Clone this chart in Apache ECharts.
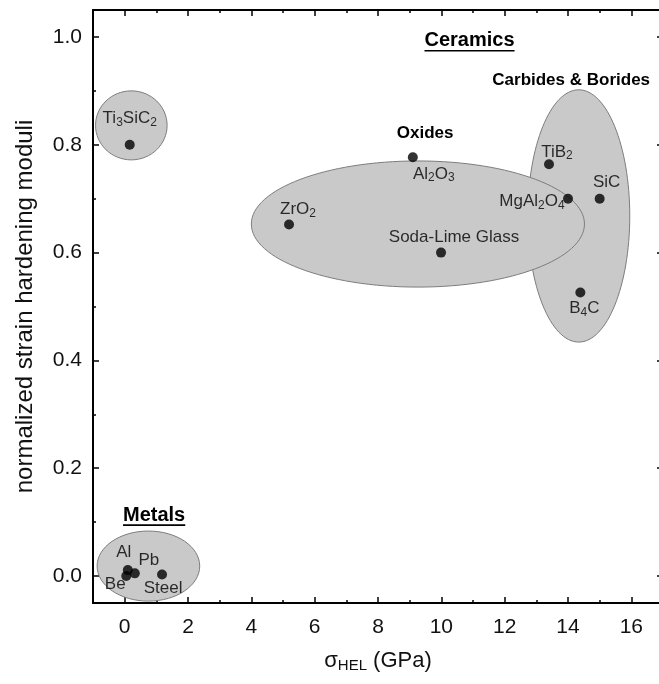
<!DOCTYPE html>
<html>
<head>
<meta charset="utf-8">
<script src="https://cdn.jsdelivr.net/npm/echarts@6/dist/echarts.min.js"></script>
<style>
  html, body { margin: 0; padding: 0; background: #fff; }
  #chart { width: 659px; height: 684px; }
</style>
</head>
<body>
<div id="chart"></div>
<script>
// data
const materials = ['Ti3SiC2', 'Al', 'Be', 'Pb', 'Steel', 'ZrO2', 'Al2O3', 'Soda-Lime Glass', 'TiB2', 'MgAl2O4', 'SiC', 'B4C'];
const sigmaHEL = [0.16, 0.10, 0.05, 0.32, 1.18, 5.19, 9.10, 9.99, 13.40, 14.00, 15.00, 14.39];
const hardening = [0.800, 0.011, 0.000, 0.005, 0.003, 0.652, 0.777, 0.600, 0.764, 0.700, 0.700, 0.526];

// material groups (ellipses), in data units
const groupNames = ['Carbides & Borides', 'Oxides', 'Ti3SiC2', 'Metals'];
const groupCx = [14.34, 9.26, 0.21, 0.75];
const groupCy = [0.668, 0.653, 0.836, 0.0185];
const groupRx = [1.61, 5.26, 1.13, 1.62];
const groupRy = [0.234, 0.117, 0.064, 0.065];

// group titles
const titleText = ['Ceramics', 'Carbides & Borides', 'Oxides', 'Metals'];
const titleX = [10.89, 14.10, 9.49, 0.93];
const titleY = [0.993, 0.920, 0.821, 0.113];

// ticks
const xMajorTicks = [0, 2, 4, 6, 8, 10, 12, 14, 16];
const xMinorTicks = [1, 3, 5, 7, 9, 11, 13, 15];
const yMajorTicks = [0, 0.2, 0.4, 0.6, 0.8, 1.0];
const yMinorTicks = [0.1, 0.3, 0.5, 0.7, 0.9];

const FONT = "'Liberation Sans', Arial, Helvetica, sans-serif";
const TEXT = '#000';

// label placement (offset of label centre from the dot, px)
const labelOffsets = {
  'Ti3SiC2': [0, -26], 'Al': [-4, -18], 'Be': [-11, 8], 'Pb': [14, -13], 'Steel': [1, 14],
  'ZrO2': [9, -15], 'Al2O3': [21, 17], 'Soda-Lime Glass': [13, -15], 'TiB2': [8, -12],
  'MgAl2O4': [-36, 3], 'SiC': [7, -16], 'B4C': [4, 16]
};
const titleStyle = {
  'Ceramics': { size: 20, underline: true },
  'Carbides & Borides': { size: 17, underline: false },
  'Oxides': { size: 17, underline: false },
  'Metals': { size: 20, underline: true }
};

// chemical formula -> rich text with subscript digits
const chem = (name) => name.split(/(\d+)/).filter(Boolean)
  .map(p => /^\d+$/.test(p) ? `{s|${p}}` : `{n|${p}}`).join('');

const measureCtx = document.createElement('canvas').getContext('2d');
const textWidth = (text, font) => { measureCtx.font = font; return measureCtx.measureText(text).width; };

const SYM = 10;
const points = materials.map((m, i) => ({
  name: m,
  value: [sigmaHEL[i], hardening[i]],
  label: { position: [SYM / 2 + labelOffsets[m][0], SYM / 2 + labelOffsets[m][1]] }
}));

const groups = groupNames.map((g, i) => [groupCx[i], groupCy[i], groupRx[i], groupRy[i], g]);
const titles = titleText.map((t, i) => [titleX[i], titleY[i], t]);

const axisLine = { show: true, onZero: false, lineStyle: { color: '#000', width: 2 } };
const noLine = { show: false, onZero: false };

const xBase = { type: 'value', min: -1, max: 17, gridIndex: 0, splitLine: { show: false } };
const yBase = { type: 'value', min: -0.05, max: 1.05, gridIndex: 0, splitLine: { show: false } };

const tick = (vals, len) => ({
  show: true, inside: true, length: len, customValues: vals,
  lineStyle: { color: '#000', width: 1.5 }
});

const chart = echarts.init(document.getElementById('chart'));

chart.setOption({
  animation: false,
  backgroundColor: '#fff',
  grid: { left: 93, top: 10, width: 570, height: 593, outerBoundsMode: 'none', containLabel: false },
  xAxis: [
    Object.assign({}, xBase, {
      position: 'bottom',
      axisLine: axisLine,
      axisTick: tick(xMajorTicks, 6),
      axisLabel: {
        customValues: xMajorTicks, margin: 14,
        fontSize: 21, color: '#111', fontFamily: FONT
      },
      name: '{a|σ}{b|HEL}{a| (GPa)}',
      nameLocation: 'middle',
      nameGap: 43,
      nameTextStyle: {
        rich: {
          a: { fontSize: 22, fontFamily: FONT, color: '#111', lineHeight: 30 },
          b: { fontSize: 15, fontFamily: FONT, color: '#111', padding: [10, 0, 0, 0] }
        }
      }
    }),
    Object.assign({}, xBase, {
      position: 'bottom', axisLine: noLine, axisTick: tick(xMinorTicks, 3), axisLabel: { show: false }
    }),
    Object.assign({}, xBase, {
      position: 'top', axisLine: axisLine, axisTick: tick(xMajorTicks, 6), axisLabel: { show: false }
    }),
    Object.assign({}, xBase, {
      position: 'top', axisLine: noLine, axisTick: tick(xMinorTicks, 3), axisLabel: { show: false }
    })
  ],
  yAxis: [
    Object.assign({}, yBase, {
      position: 'left',
      axisLine: axisLine,
      axisTick: tick(yMajorTicks, 6),
      axisLabel: {
        customValues: yMajorTicks, margin: 11,
        fontSize: 21, color: '#111', fontFamily: FONT,
        formatter: (v) => v.toFixed(1)
      },
      name: 'normalized strain hardening moduli',
      nameLocation: 'middle',
      nameGap: 56,
      nameTextStyle: { fontSize: 24, fontFamily: FONT, color: '#111' }
    }),
    Object.assign({}, yBase, {
      position: 'left', axisLine: noLine, axisTick: tick(yMinorTicks, 3), axisLabel: { show: false }
    }),
    Object.assign({}, yBase, {
      position: 'right', axisLine: axisLine, axisTick: tick(yMajorTicks, 6), axisLabel: { show: false }
    }),
    Object.assign({}, yBase, {
      position: 'right', axisLine: noLine, axisTick: tick(yMinorTicks, 3), axisLabel: { show: false }
    })
  ],
  series: [
    {
      // grouping ellipses
      type: 'custom',
      xAxisIndex: 0,
      yAxisIndex: 0,
      z: 1,
      silent: true,
      data: groups,
      renderItem: (params, api) => {
        const c = api.coord([api.value(0), api.value(1)]);
        const s = api.size([api.value(2), api.value(3)]);
        return {
          type: 'ellipse',
          shape: { cx: c[0], cy: c[1], rx: s[0], ry: s[1] },
          style: { fill: '#c9c9c9', stroke: '#7d7d7d', lineWidth: 1 }
        };
      }
    },
    {
      // group titles
      type: 'custom',
      xAxisIndex: 0,
      yAxisIndex: 0,
      z: 3,
      silent: true,
      data: titles,
      renderItem: (params, api) => {
        const c = api.coord([api.value(0), api.value(1)]);
        const text = titleText[params.dataIndex];
        const st = titleStyle[text];
        const font = `bold ${st.size}px ${FONT}`;
        const children = [{
          type: 'text',
          x: c[0], y: c[1],
          style: {
            text: text, font: font, fill: TEXT,
            align: 'center', verticalAlign: 'middle'
          }
        }];
        if (st.underline) {
          const w = textWidth(text, font);
          children.push({
            type: 'line',
            shape: { x1: c[0] - w / 2, y1: c[1] + 10, x2: c[0] + w / 2, y2: c[1] + 10 },
            style: { stroke: TEXT, lineWidth: 1.6 }
          });
        }
        return { type: 'group', children: children };
      }
    },
    {
      type: 'scatter',
      xAxisIndex: 0,
      yAxisIndex: 0,
      z: 4,
      symbol: 'circle',
      symbolSize: SYM,
      itemStyle: { color: '#000' },
      data: points,
      label: {
        show: true,
        align: 'center',
        verticalAlign: 'middle',
        color: TEXT,
        textBorderWidth: 0,
        formatter: (p) => chem(p.name),
        rich: {
          n: { fontSize: 17, fontFamily: FONT, color: TEXT, lineHeight: 20 },
          s: { fontSize: 12, fontFamily: FONT, color: TEXT, padding: [8, 0, 0, 0] }
        }
      }
    }
  ]
});
</script>
</body>
</html>
